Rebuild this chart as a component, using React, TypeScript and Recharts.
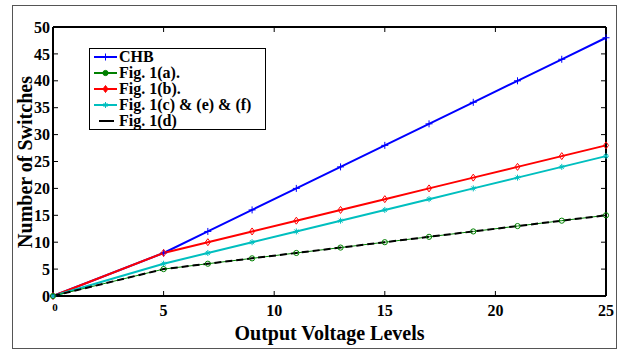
import { LineChart, Line, XAxis, YAxis, Legend, Label } from 'recharts'

const levels = [0, 5, 7, 9, 11, 13, 15, 17, 19, 21, 23, 25]
const chb = [0, 8, 12, 16, 20, 24, 28, 32, 36, 40, 44, 48]
const figA = [0, 5, 6, 7, 8, 9, 10, 11, 12, 13, 14, 15]
const figB = [0, 8, 10, 12, 14, 16, 18, 20, 22, 24, 26, 28]
const figCEF = [0, 6, 8, 10, 12, 14, 16, 18, 20, 22, 24, 26]
const figD = [0, 5, 6, 7, 8, 9, 10, 11, 12, 13, 14, 15]
const xTicks = [0, 5, 10, 15, 20, 25]
const yTicks = [0, 5, 10, 15, 20, 25, 30, 35, 40, 45, 50]

const data = levels.map((x, i) => ({ x, chb: chb[i], a: figA[i], b: figB[i], cef: figCEF[i], d: figD[i] }))

const FONT = '"Liberation Serif", "Times New Roman", serif'
const BLUE = '#0000ff'
const GREEN = '#008000'
const RED = '#ff0000'
const CYAN = '#00bfbf'

const plus = (color: string) => (p: any) => (
  <path key={p.index} d={`M${p.cx - 3.5},${p.cy}h7M${p.cx},${p.cy - 3.5}v7`} stroke={color} strokeWidth={1} fill="none" />
)
const circle = (p: any) => <circle key={p.index} cx={p.cx} cy={p.cy} r={2.6} stroke={GREEN} strokeWidth={1} fill="none" />
const diamond = (p: any) => (
  <path key={p.index} d={`M${p.cx},${p.cy - 3.5}L${p.cx + 2.5},${p.cy}L${p.cx},${p.cy + 3.5}L${p.cx - 2.5},${p.cy}Z`} stroke={RED} strokeWidth={1} fill="none" />
)
const star = (p: any) => (
  <path
    key={p.index}
    d={`M${p.cx - 3},${p.cy}h6M${p.cx},${p.cy - 3}v6M${p.cx - 2},${p.cy - 2}l4,4M${p.cx - 2},${p.cy + 2}l4,-4`}
    stroke={CYAN}
    strokeWidth={1}
    fill="none"
  />
)

const XTick = (p: any) => {
  const zero = p.payload.value === 0
  return (
    <text x={p.x + (zero ? 2 : 0)} y={p.y} dy={zero ? 6 : 11} textAnchor="middle" fontFamily={FONT} fontWeight="bold" fontSize={zero ? 11 : 16} fill="#000">
      {p.payload.value}
    </text>
  )
}

const legendRows = [
  { name: 'CHB', color: BLUE, mark: 'plus' },
  { name: 'Fig. 1(a).', color: GREEN, mark: 'circle' },
  { name: 'Fig. 1(b).', color: RED, mark: 'diamond' },
  { name: 'Fig. 1(c) & (e) & (f)', color: CYAN, mark: 'star' },
  { name: 'Fig. 1(d)', color: '#000', mark: 'none' },
]

const LegendBox = () => (
  <div
    style={{
      width: 177,
      height: 82,
      boxSizing: 'border-box',
      border: '1.5px solid #000',
      background: '#fff',
      paddingTop: 0,
      fontFamily: FONT,
      fontWeight: 'bold',
      fontSize: 16,
      color: '#000',
    }}
  >
    {legendRows.map((r) => (
      <div key={r.name} style={{ display: 'flex', alignItems: 'center', height: 16, lineHeight: '16px', whiteSpace: 'nowrap' }}>
        <svg width={29} height={16} style={{ flex: 'none' }}>
          {r.mark === 'none' ? (
            <line x1={9} x2={24} y1={8} y2={8} stroke="#000" strokeWidth={2} />
          ) : (
            <line x1={4} x2={27} y1={8} y2={8} stroke={r.color} strokeWidth={2} />
          )}
          {r.mark === 'plus' && plus(BLUE)({ cx: 15.5, cy: 8, index: 0 })}
          {r.mark === 'circle' && <circle cx={15.5} cy={8} r={2.6} fill={GREEN} stroke={GREEN} />}
          {r.mark === 'diamond' && <path d="M15.5,4.5L18,8L15.5,11.5L13,8Z" fill={RED} stroke={RED} />}
          {r.mark === 'star' && star({ cx: 15.5, cy: 8, index: 0 })}
        </svg>
        <span>{r.name}</span>
      </div>
    ))}
  </div>
)

const tickFont = { fill: '#000', fontSize: 16, fontWeight: 'bold', fontFamily: FONT }
const axisLine = { stroke: '#000', strokeWidth: 2 }
const tickLine = { stroke: '#000', strokeWidth: 1 }

export default function App() {
  return (
    <div style={{ position: 'absolute', left: 0, top: 0, width: 625, height: 351, background: '#fff' }}>
      <div
        style={{
          position: 'absolute',
          left: 12,
          top: 5,
          width: 605,
          height: 344,
          boxSizing: 'border-box',
          border: '1px solid #555',
        }}
      />
      <LineChart width={625} height={351} data={data} margin={{ top: 26, right: 18, bottom: 0, left: 13 }}>
        <XAxis
          xAxisId="bottom"
          dataKey="x"
          type="number"
          domain={[0, 25]}
          ticks={xTicks}
          height={55}
          axisLine={axisLine}
          tickLine={tickLine}
          tickSize={-5}
          tickMargin={14}
          tick={<XTick />}
          interval={0}
        >
          <Label
            content={() => (
              <text x={329.5} y={340} textAnchor="middle" fontFamily={FONT} fontWeight="bold" fontSize={20} fill="#000">
                Output Voltage Levels
              </text>
            )}
          />
        </XAxis>
        <XAxis
          xAxisId="top"
          orientation="top"
          dataKey="x"
          type="number"
          domain={[0, 25]}
          ticks={xTicks}
          height={1}
          axisLine={axisLine}
          tickLine={tickLine}
          tickSize={-5}
          tickFormatter={() => ''}
          interval={0}
          allowDataOverflow
        />
        <YAxis
          yAxisId="left"
          type="number"
          domain={[0, 50]}
          ticks={yTicks}
          width={40}
          axisLine={axisLine}
          tickLine={tickLine}
          tickSize={-5}
          tickMargin={8}
          tick={tickFont}
          interval={0}
        >
          <Label
            content={() => (
              <text
                x={32}
                y={162}
                transform="rotate(-90 32 162)"
                textAnchor="middle"
                fontFamily={FONT}
                fontWeight="bold"
                fontSize={20}
                fill="#000"
              >
                Number of Switches
              </text>
            )}
          />
        </YAxis>
        <YAxis
          yAxisId="right"
          orientation="right"
          type="number"
          domain={[0, 50]}
          ticks={yTicks}
          width={1}
          axisLine={axisLine}
          tickLine={tickLine}
          tickSize={-5}
          tickFormatter={() => ''}
          interval={0}
          allowDataOverflow
        />
        <Legend
          layout="vertical"
          align="center"
          verticalAlign="middle"
          wrapperStyle={{ left: 89, top: 48, width: 177, height: 82 }}
          content={() => <LegendBox />}
        />
        <Line xAxisId="bottom" yAxisId="left" dataKey="chb" stroke={BLUE} strokeWidth={2} dot={plus(BLUE)} isAnimationActive={false} />
        <Line xAxisId="bottom" yAxisId="left" dataKey="b" stroke={RED} strokeWidth={2} dot={diamond} isAnimationActive={false} />
        <Line xAxisId="bottom" yAxisId="left" dataKey="cef" stroke={CYAN} strokeWidth={2} dot={star} isAnimationActive={false} />
        <Line xAxisId="bottom" yAxisId="left" dataKey="a" stroke={GREEN} strokeWidth={1} dot={false} isAnimationActive={false} />
        <Line xAxisId="bottom" yAxisId="left" dataKey="d" stroke="#000" strokeWidth={2} strokeDasharray="7 4" dot={false} isAnimationActive={false} />
        <Line xAxisId="bottom" yAxisId="left" dataKey="a" stroke="none" dot={circle} isAnimationActive={false} legendType="none" />
      </LineChart>
    </div>
  )
}
